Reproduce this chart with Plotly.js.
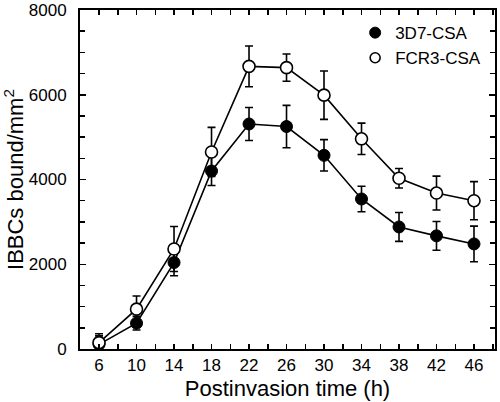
<!DOCTYPE html>
<html>
<head>
<meta charset="utf-8">
<script src="https://cdn.plot.ly/plotly-3.0.1.min.js"></script>
<style>html,body{margin:0;padding:0;background:#fff;}#chart{width:500px;height:402px;}</style>
</head>
<body>
<div id="chart"></div>
<script>
var hours = [6, 10, 14, 18, 22, 26, 30, 34, 38, 42, 46];
var tickLabels = ['6', '10', '14', '18', '22', '26', '30', '34', '38', '42', '46'];
var yTicks = [0, 2000, 4000, 6000, 8000];
var csa3D7 = [110, 610, 2040, 4200, 5310, 5250, 4570, 3540, 2880, 2670, 2480];
var csa3D7Err = [200, 160, 310, 340, 390, 500, 370, 300, 340, 340, 420];
var fcr3 = [150, 940, 2360, 4650, 6670, 6640, 5990, 4960, 4030, 3680, 3500];
var fcr3Err = [210, 310, 530, 580, 480, 320, 570, 370, 230, 400, 450];
var names = ['3D7-CSA', 'FCR3-CSA'];

var font = 'Liberation Sans, Arial, Helvetica, sans-serif';

var traces = [
  {
    x: hours, y: csa3D7, mode: 'lines+markers', showlegend: false,
    line: {color: '#000', width: 1.6},
    marker: {symbol: 'circle', size: 12, color: '#000', line: {color: '#000', width: 1}},
    error_y: {type: 'data', array: csa3D7Err, visible: true, color: '#000', thickness: 1.6, width: 4}
  },
  {
    x: hours, y: fcr3, mode: 'lines+markers', showlegend: false,
    line: {color: '#000', width: 1.6},
    marker: {symbol: 'circle', size: 12, color: '#fff', line: {color: '#000', width: 1.6}},
    error_y: {type: 'data', array: fcr3Err, visible: true, color: '#000', thickness: 1.6, width: 4}
  },
  {
    x: [null], y: [null], mode: 'markers', name: names[0], legendgroup: 'a',
    marker: {symbol: 'circle', size: 11, color: '#000', line: {color: '#000', width: 1}}
  },
  {
    x: [null], y: [null], mode: 'markers', name: names[1], legendgroup: 'b',
    marker: {symbol: 'circle', size: 10, color: '#fff', line: {color: '#000', width: 1.6}}
  }
];

var layout = {
  width: 500, height: 402,
  margin: {l: 80, r: 5, t: 10, b: 53},
  paper_bgcolor: '#fff', plot_bgcolor: '#fff',
  font: {family: font, color: '#000', size: 17},
  showlegend: true,
  legend: {
    x: 0.663, y: 0.985, xanchor: 'left', yanchor: 'top',
    font: {family: font, size: 17, color: '#000'},
    bgcolor: 'rgba(0,0,0,0)', tracegroupgap: 0
  },
  xaxis: {
    range: [3.97, 48.24],
    tickvals: hours, ticktext: tickLabels,
    ticks: 'inside', ticklen: 5, tickwidth: 1.5, tickcolor: '#000',
    minor: {dtick: 2, tick0: 4, ticks: 'inside', ticklen: 5, tickwidth: 1.5, tickcolor: '#000'},
    showline: true, linecolor: '#000', linewidth: 2, mirror: 'ticks',
    showgrid: false, zeroline: false,
    tickfont: {family: font, size: 17},
    title: {text: 'Postinvasion time (h)', font: {family: font, size: 22}, standoff: 6}
  },
  yaxis: {
    range: [0, 8000],
    tickvals: yTicks,
    ticks: 'inside', ticklen: 6, tickwidth: 1.5, tickcolor: '#000',
    minor: {dtick: 500, ticks: 'inside', ticklen: 5, tickwidth: 1.5, tickcolor: '#000'},
    showline: true, linecolor: '#000', linewidth: 2, mirror: 'ticks',
    showgrid: false, zeroline: false,
    tickfont: {family: font, size: 17},
    ticklabelstandoff: 8,
    ticklabeloverflow: 'allow',
    title: {text: 'IBBCs bound/mm<sup>2</sup>', font: {family: font, size: 22}, standoff: 6}
  }
};

Plotly.newPlot('chart', traces, layout, {displayModeBar: false, staticPlot: true});
</script>
</body>
</html>
